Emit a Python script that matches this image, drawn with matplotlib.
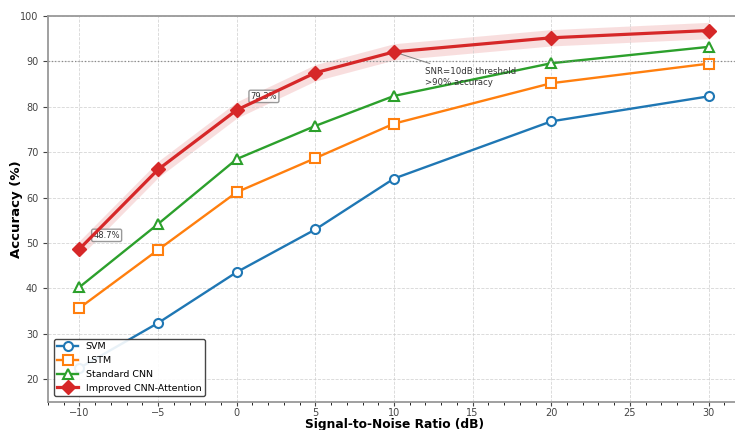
import matplotlib
matplotlib.use("Agg")
import matplotlib.pyplot as plt
import numpy as np
from matplotlib.ticker import AutoMinorLocator

snr = [-10, -5, 0, 5, 10, 20, 30]
svm = [22.5, 32.4, 43.6, 53.0, 64.2, 76.8, 82.3]
lstm = [35.7, 48.5, 61.2, 68.7, 76.3, 85.2, 89.5]
cnn = [40.3, 54.2, 68.5, 75.8, 82.4, 89.6, 93.2]
improved = [48.7, 66.2, 79.3, 87.5, 92.1, 95.2, 96.8]
band = 1.8

fig = plt.figure(figsize=(7.35, 4.3), dpi=100)
ax = fig.add_axes([0.0653, 0.0651, 0.95, 0.8977])

ax.plot(snr, svm, '-o', color='#1f77b4', lw=1.7, ms=6.5, mfc='white', mew=1.5, label='SVM')
ax.plot(snr, lstm, '-s', color='#ff7f0e', lw=1.7, ms=6.5, mfc='white', mew=1.5, label='LSTM')
ax.plot(snr, cnn, '-^', color='#2ca02c', lw=1.7, ms=6.5, mfc='white', mew=1.5, label='Standard CNN')
ax.plot(snr, improved, '-D', color='#d62728', lw=2.3, ms=7, label='Improved CNN-Attention', zorder=5)
imp = np.array(improved)
ax.fill_between(snr, imp - band, imp + band, color='#d62728', alpha=0.15, lw=0)

ax.axhline(90, color='gray', ls=':', lw=0.9, alpha=0.9)

for x, y in [(snr[0], improved[0]), (snr[2], improved[2])]:
    ax.annotate(f'{y}%', xy=(x, y), xytext=(10, 8), textcoords='offset points',
                fontsize=6, color='#333333',
                bbox=dict(boxstyle='round,pad=0.2', fc='white', ec='gray', alpha=0.8))

ax.annotate('SNR=10dB threshold\n>90% accuracy', xy=(10, 92.1), xytext=(12, 84.9),
            fontsize=6.2, color='#333333',
            arrowprops=dict(arrowstyle='-', color='gray', lw=0.7))

ax.set_xlim(-12, 32.4)
ax.set_ylim(15, 100)
ax.set_xticks([-10, -5, 0, 5, 10, 15, 20, 25, 30])
ax.set_yticks([20, 30, 40, 50, 60, 70, 80, 90, 100])
ax.xaxis.set_minor_locator(AutoMinorLocator(5))
ax.tick_params(labelsize=7, colors='#444444')
ax.tick_params(axis='x', which='major', length=3, pad=1.5)
ax.tick_params(axis='x', which='minor', length=2)
ax.grid(True, ls='--', color='#cccccc', lw=0.6, alpha=0.8)
for s in ax.spines.values():
    s.set_color('#999999')
    s.set_linewidth(1.3)

ax.set_xlabel('Signal-to-Noise Ratio (dB)', fontsize=8.8, fontweight='bold')
ax.set_ylabel('Accuracy (%)', fontsize=9.5, fontweight='bold')
W = 0.95 * 735
ax.xaxis.set_label_coords((395 - 48) / W, (402 - 418) / 386.0)
ax.xaxis.label.set_va('top')
ax.yaxis.set_label_coords((17 - 48) / W, 0.5)
ax.yaxis.label.set_va('center')

ax.legend(loc='lower left', fontsize=6.8, frameon=True, edgecolor='#333333', fancybox=True,
          framealpha=0.9, borderaxespad=0.6, handlelength=2.2)

fig.savefig('out.png', dpi=100)
